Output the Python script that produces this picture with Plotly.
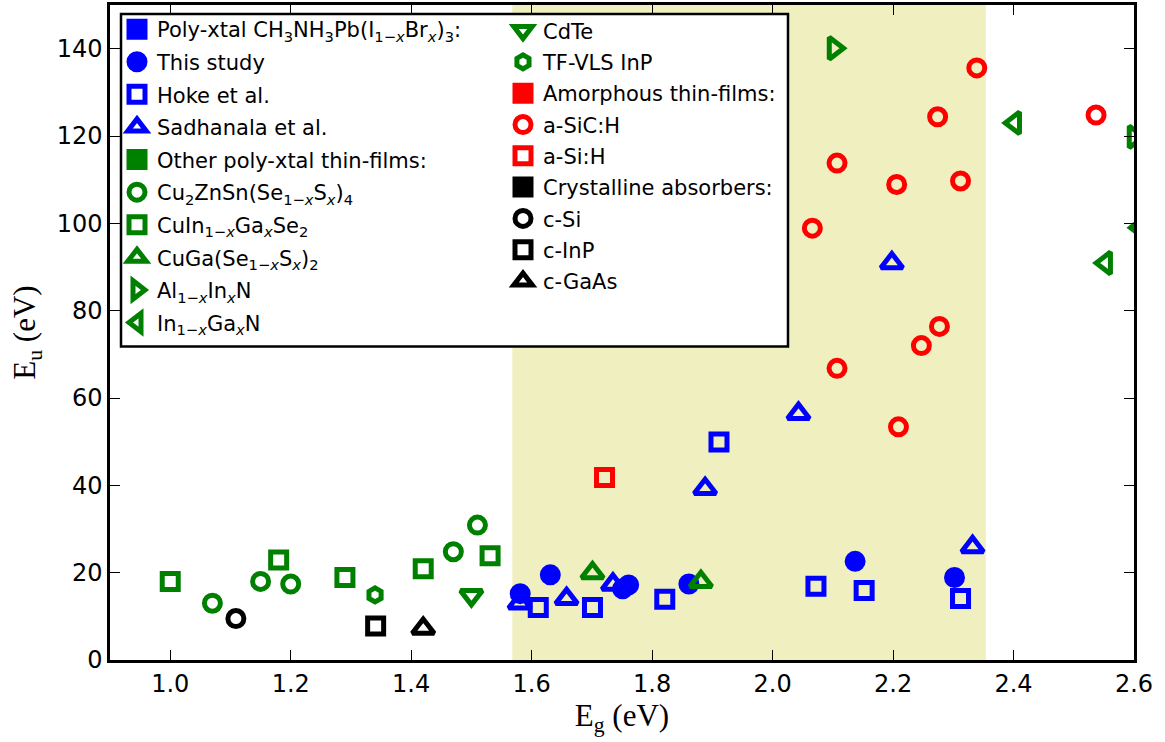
import plotly.graph_objects as go

# ---- data: band gap Eg (eV) and Urbach energy Eu ----
this_study_eg = [1.581, 1.631, 1.751, 1.761, 1.861, 2.137, 2.302]
this_study_eu = [15.2, 19.5, 16.3, 17.2, 17.4, 22.6, 18.9]

hoke_eg = [1.611, 1.701, 1.821, 1.911, 2.072, 2.152, 2.312]
hoke_eu = [12.0, 12.0, 13.9, 49.9, 16.9, 15.9, 14.1]

sadhanala_eg = [1.580, 1.658, 1.735, 1.888, 2.043, 2.198, 2.332]
sadhanala_eu = [13.0, 14.0, 17.3, 39.2, 56.4, 90.9, 25.9]

czts_eg = [1.07, 1.15, 1.20, 1.47, 1.51]
czts_eu = [13.0, 18.0, 17.4, 24.8, 30.9]

cigs_eg = [1.00, 1.18, 1.29, 1.42, 1.531]
cigs_eu = [18.0, 22.9, 18.9, 20.9, 23.9]

cgss_eg = [1.701, 1.881]
cgss_eu = [19.9, 17.9]

alinn_eg = [2.102, 2.60]
alinn_eu = [140.1, 119.8]

ingan_eg = [2.402, 2.553, 2.61]
ingan_eu = [123.0, 90.9, 99.0]

cdte_eg = [1.50]
cdte_eu = [14.8]

inp_vls_eg = [1.34]
inp_vls_eu = [14.9]

asic_eg = [2.339, 2.274, 2.107, 2.206, 2.312, 2.066, 2.277, 2.247, 2.107, 2.537, 2.209]
asic_eu = [135.6, 124.4, 113.8, 108.9, 109.7, 98.9, 76.4, 72.0, 66.8, 124.8, 53.4]

asi_eg = [1.721]
asi_eu = [41.8]

csi_eg = [1.109]
csi_eu = [9.5]

cinp_eg = [1.341]
cinp_eu = [7.8]

cgaas_eg = [1.420]
cgaas_eu = [7.2]

x_ticks = [1.0, 1.2, 1.4, 1.6, 1.8, 2.0, 2.2, 2.4, 2.6]
y_ticks = [0, 20, 40, 60, 80, 100, 120, 140]
shade_range = [1.568, 2.354]

BLUE, GREEN, RED, BLACK = "#0000ff", "#008000", "#ff0000", "#000000"
X = "<i>x</i>"

fig = go.Figure()


def header(name, color, legend):
    fig.add_trace(go.Scatter(
        x=[None], y=[None], mode="markers", name=name, legend=legend,
        legendgroup=name,
        marker=dict(symbol="square", size=16, color=color,
                    line=dict(color=color, width=5)),
    ))


def series(name, xs, ys, color, symbol, legend, size=16, filled=False):
    fig.add_trace(go.Scatter(
        x=xs, y=ys, mode="markers", name=name, legend=legend,
        legendgroup=name,
        marker=dict(symbol=symbol if filled else symbol + "-open",
                    size=size, color=color,
                    line=dict(color=color, width=5)),
    ))


# left legend column
header(f"Poly-xtal CH<sub>3</sub>NH<sub>3</sub>Pb(I<sub>1−{X}</sub>Br<sub>{X}</sub>)<sub>3</sub>:", BLUE, "legend")
series("This study", this_study_eg, this_study_eu, BLUE, "circle", "legend", filled=True)
series("Hoke et al.", hoke_eg, hoke_eu, BLUE, "square", "legend")
series("Sadhanala et al.", sadhanala_eg, sadhanala_eu, BLUE, "triangle-up", "legend", size=19)
header("Other poly-xtal thin-films:", GREEN, "legend")
series(f"Cu<sub>2</sub>ZnSn(Se<sub>1−{X}</sub>S<sub>{X}</sub>)<sub>4</sub>", czts_eg, czts_eu, GREEN, "circle", "legend")
series(f"CuIn<sub>1−{X}</sub>Ga<sub>{X}</sub>Se<sub>2</sub>", cigs_eg, cigs_eu, GREEN, "square", "legend")
series(f"CuGa(Se<sub>1−{X}</sub>S<sub>{X}</sub>)<sub>2</sub>", cgss_eg, cgss_eu, GREEN, "triangle-up", "legend", size=19)
series(f"Al<sub>1−{X}</sub>In<sub>{X}</sub>N", alinn_eg, alinn_eu, GREEN, "triangle-right", "legend", size=19)
series(f"In<sub>1−{X}</sub>Ga<sub>{X}</sub>N", ingan_eg, ingan_eu, GREEN, "triangle-left", "legend", size=19)

# right legend column
series("CdTe", cdte_eg, cdte_eu, GREEN, "triangle-down", "legend2", size=19)
series("TF-VLS InP", inp_vls_eg, inp_vls_eu, GREEN, "hexagon", "legend2", size=14)
header("Amorphous thin-films:", RED, "legend2")
series("a-SiC:H", asic_eg, asic_eu, RED, "circle", "legend2")
series("a-Si:H", asi_eg, asi_eu, RED, "square", "legend2")
header("Crystalline absorbers:", BLACK, "legend2")
series("c-Si", csi_eg, csi_eu, BLACK, "circle", "legend2")
series("c-InP", cinp_eg, cinp_eu, BLACK, "square", "legend2")
series("c-GaAs", cgaas_eg, cgaas_eu, BLACK, "triangle-up", "legend2", size=19)

# plot-area geometry in pixels (for paper-coordinate placement)
W, H = 1165, 742
ML, MR, MT, MB = 110, 31, 2, 82
PW, PH = W - ML - MR, H - MT - MB


def px(xp):
    return (xp - ML) / PW


def py(yp):
    return 1 - (yp - MT) / PH


# band-gap window and the common legend frame
fig.add_shape(type="rect", xref="x", yref="paper", x0=shade_range[0], x1=shade_range[1],
              y0=0, y1=1, fillcolor="#efefbf", line=dict(width=0), layer="below")
fig.add_shape(type="rect", xref="paper", yref="paper", x0=px(121), x1=px(788),
              y0=py(345), y1=py(11), fillcolor="white",
              line=dict(color="black", width=2.5), layer="above")

legend_common = dict(
    bgcolor="rgba(0,0,0,0)", borderwidth=0, yanchor="top", xanchor="left",
    font=dict(family="DejaVu Sans", size=21, color="black"),
    itemclick=False, itemdoubleclick=False, orientation="v",
)

axis_common = dict(
    showline=True, linecolor="black", linewidth=2.5, mirror="allticks",
    ticks="inside", ticklen=10, tickwidth=1.2, tickcolor="black",
    showgrid=False, zeroline=False,
    tickfont=dict(family="DejaVu Sans", size=24, color="black"),
)

fig.update_layout(
    width=W, height=H,
    margin=dict(l=ML, r=MR, t=MT, b=MB),
    paper_bgcolor="white", plot_bgcolor="white",
    showlegend=True,
    legend=dict(x=px(117), y=py(6), tracegroupgap=2.3, **legend_common),
    legend2=dict(x=px(503), y=py(7.5), tracegroupgap=1.0, **legend_common),
    xaxis=dict(range=[0.9, 2.6], tickvals=x_ticks, tickformat=".1f",
               title=dict(text="E<sub>g</sub> (eV)", standoff=6,
                          font=dict(family="Liberation Serif", size=31, color="black")),
               **axis_common),
    yaxis=dict(range=[0, 150], tickvals=y_ticks,
               title=dict(text="E<sub>u</sub> (eV)", standoff=12,
                          font=dict(family="Liberation Serif", size=31, color="black")),
               **axis_common),
)

fig.write_html("out.html")
